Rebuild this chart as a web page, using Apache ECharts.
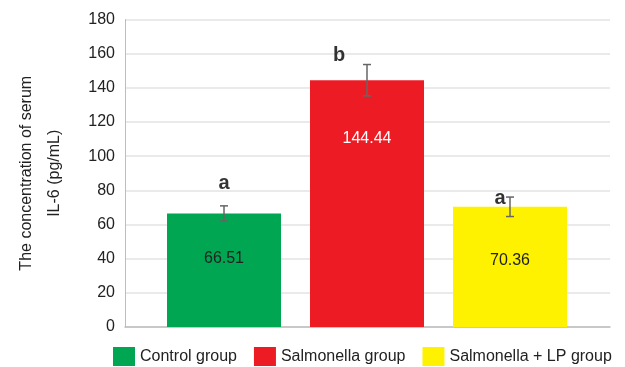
<!DOCTYPE html>
<html><head><meta charset="utf-8">
<script src="https://cdn.jsdelivr.net/npm/echarts@6/dist/echarts.min.js"></script>
<style>html,body{margin:0;padding:0;background:#fff}#c{width:625px;height:367px}</style>
</head><body><div id="c"></div>
<script>
const categories = ['Control group', 'Salmonella group', 'Salmonella + LP group'];
const values = [66.51, 144.44, 70.36];
const errors = [4.4, 9.2, 5.7];
const letters = ['a', 'b', 'a'];
const letterValues = [84.2, 159, 75.4];
const yTicks = [0, 20, 40, 60, 80, 100, 120, 140, 160, 180];
const colors = ['#00a651', '#ed1c24', '#fff200'];
const labelColors = ['#222', '#fff', '#222'];
const labelDist = [37, 50, 46];
const letterOffsets = [[0, 0], [-28, 0], [-10, 0]];

const FONT = 'Liberation Sans, Arial, sans-serif';
const gridTop = 19.5, gridBottom = 40;

const barSeries = categories.map((c, i) => ({
  name: c, type: 'bar', xAxisIndex: 0, yAxisIndex: 0,
  barWidth: 114, barGap: '-100%',
  itemStyle: { color: colors[i] },
  data: values.map((v, j) => j === i ? {
    value: v,
    label: { show: true, position: 'insideTop', distance: labelDist[i], formatter: String(v.toFixed(2)),
      color: labelColors[i], fontSize: 16, fontFamily: FONT }
  } : null),
  z: 2
}));

const errSeries = {
  type: 'custom', xAxisIndex: 0, yAxisIndex: 0, z: 5,
  data: values.map((v, i) => [i, v - errors[i], v + errors[i]]),
  renderItem(params, api) {
    const lo = api.coord([api.value(0), api.value(1)]);
    const hi = api.coord([api.value(0), api.value(2)]);
    const w = 4;
    const st = { stroke: '#666', lineWidth: 1.5 };
    return { type: 'group', children: [
      { type: 'line', shape: { x1: lo[0], y1: lo[1], x2: hi[0], y2: hi[1] }, style: st },
      { type: 'line', shape: { x1: lo[0] - w, y1: lo[1], x2: lo[0] + w, y2: lo[1] }, style: st },
      { type: 'line', shape: { x1: hi[0] - w, y1: hi[1], x2: hi[0] + w, y2: hi[1] }, style: st }
    ]};
  }
};

const letterSeries = {
  type: 'scatter', xAxisIndex: 0, yAxisIndex: 0, symbolSize: 0, z: 6,
  data: letters.map((l, i) => ({
    value: [i, letterValues[i]],
    label: { show: true, position: 'inside', formatter: l, offset: letterOffsets[i],
      color: '#000', fontWeight: 'bold', fontSize: 20, fontFamily: FONT }
  }))
};

const chart = echarts.init(document.getElementById('c'), null, { renderer: 'canvas' });
chart.setOption({
  animation: false,
  backgroundColor: '#fff',
  grid: [
    { left: 152.5, right: 43.5, top: gridTop, bottom: gridBottom, outerBoundsMode: 'none', containLabel: false },
    { left: 125, right: 15, top: gridTop, bottom: gridBottom, outerBoundsMode: 'none', containLabel: false }
  ],
  legend: {
    data: categories, left: 108, top: 342, itemWidth: 22, itemHeight: 19, itemGap: 17,
    icon: 'rect',
    textStyle: { fontSize: 16, color: '#222', fontFamily: FONT }
  },
  xAxis: [
    { type: 'category', gridIndex: 0, data: categories, show: false },
    { type: 'category', gridIndex: 1, data: [''], axisLine: { show: true, lineStyle: { color: '#bdbdbd', width: 1.5 } },
      axisTick: { show: false }, axisLabel: { show: false } }
  ],
  yAxis: [
    { type: 'value', gridIndex: 0, min: 0, max: 180, interval: 20, show: false, splitLine: { show: false } },
    { type: 'value', gridIndex: 1, min: yTicks[0], max: yTicks[yTicks.length - 1], interval: 20,
      axisLine: { show: true, lineStyle: { color: '#bdbdbd', width: 1 } },
      axisTick: { show: false },
      axisLabel: { color: '#222', fontSize: 16, fontFamily: FONT, margin: 10 },
      splitLine: { lineStyle: { color: '#e3e3e3', width: 1.5 } },
      name: 'The concentration of serum\nIL-6 (pg/mL)',
      nameLocation: 'middle', nameRotate: 90, nameGap: 56,
      nameTextStyle: { fontSize: 16, color: '#222', fontFamily: FONT, lineHeight: 28 }
    }
  ],
  series: [...barSeries, errSeries, letterSeries]
});
</script></body></html>
